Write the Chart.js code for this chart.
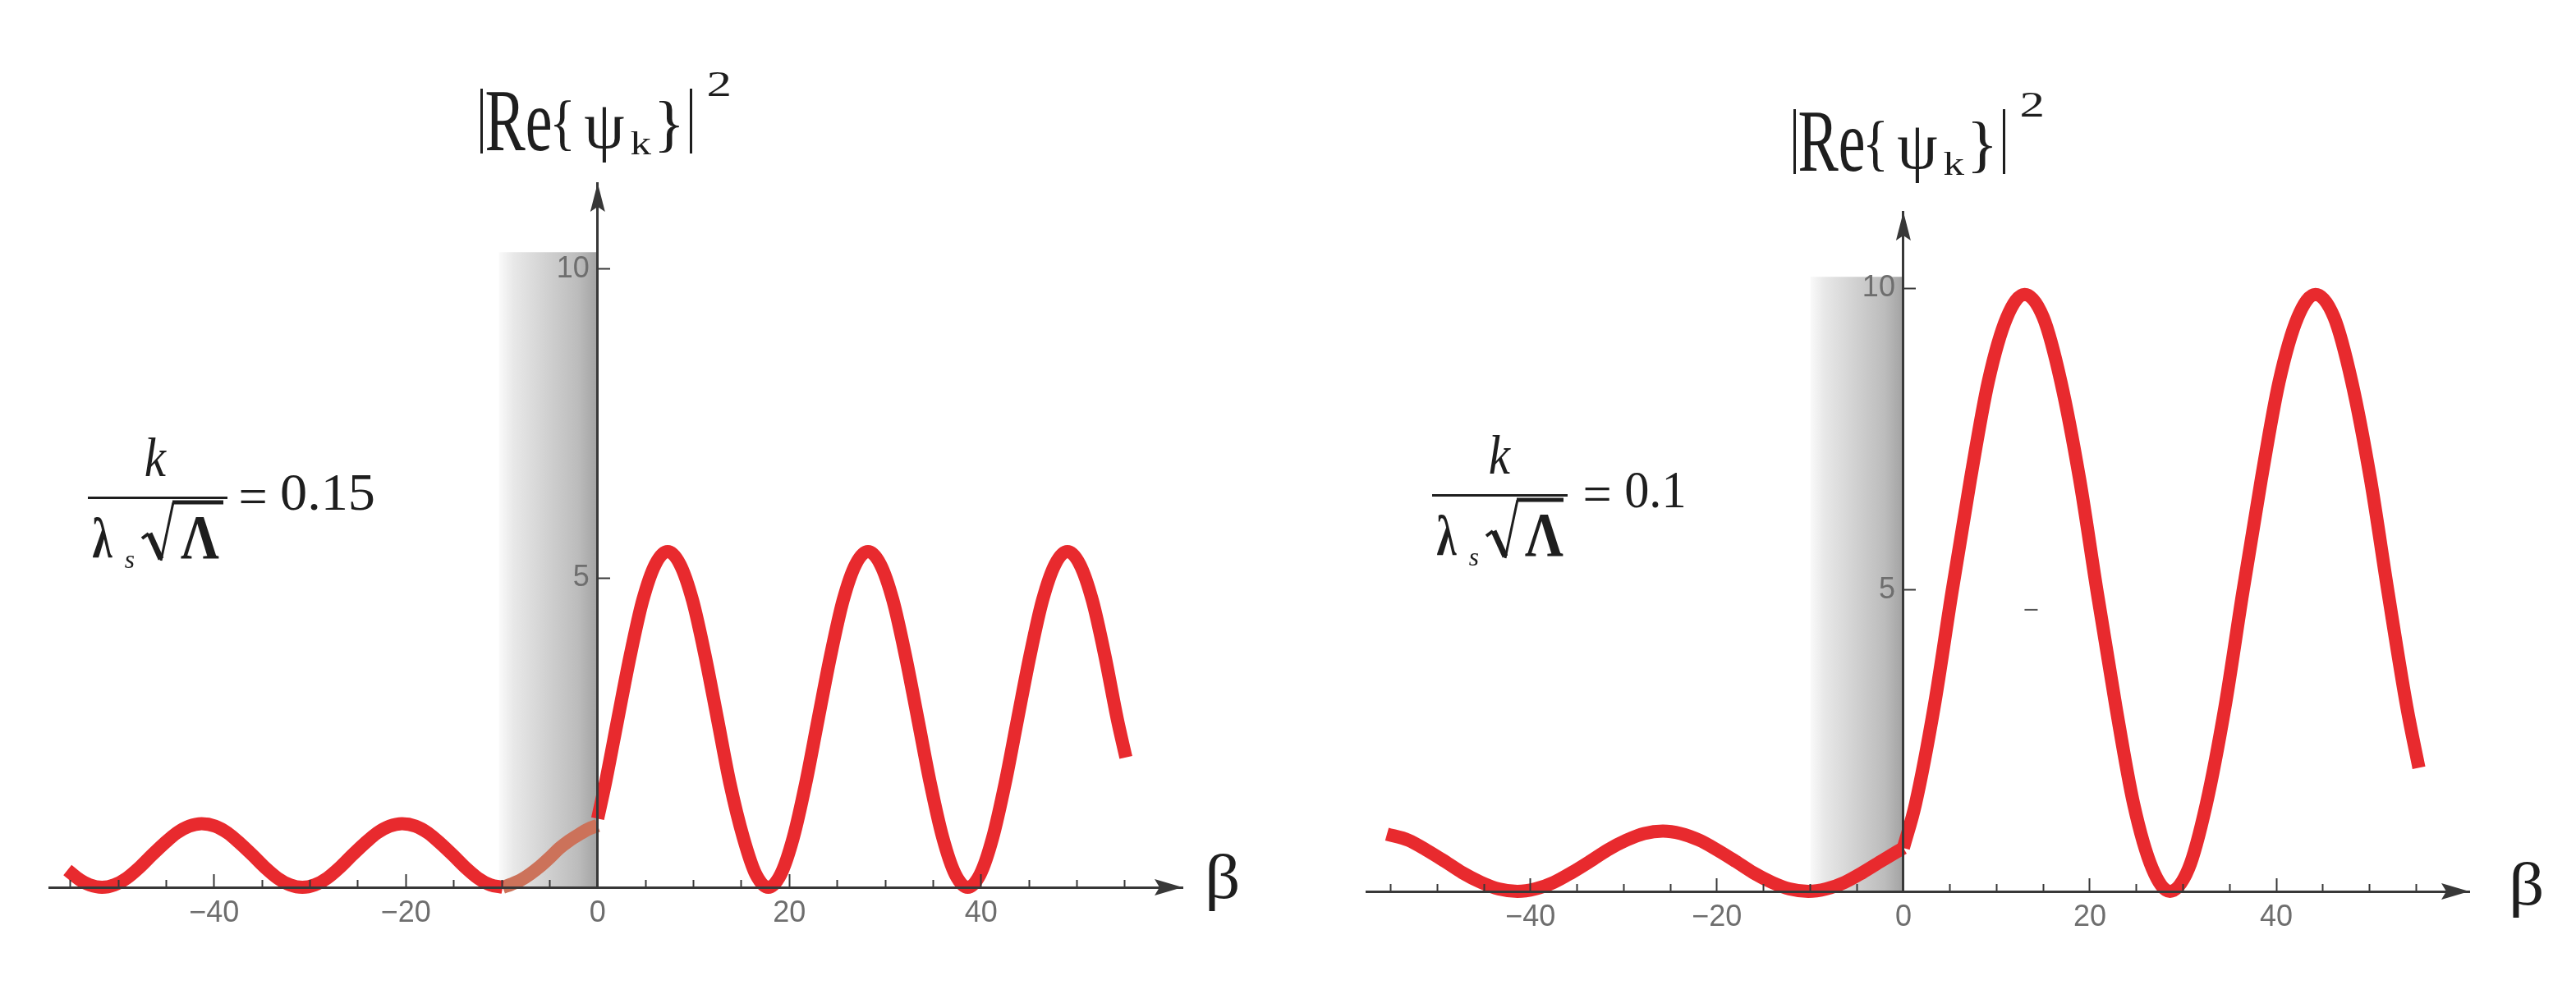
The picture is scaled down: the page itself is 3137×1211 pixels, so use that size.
<!DOCTYPE html>
<html>
<head>
<meta charset="utf-8">
<script src="https://cdn.jsdelivr.net/npm/chart.js@4.4.1/dist/chart.umd.min.js"></script>
<style>
  body { margin: 0; background: #fff; }
  canvas { position: absolute; top: 0; }
  #left { left: 0; }
  #right { left: 1568px; }
</style>
</head>
<body>
<canvas id="left" width="1568" height="1211"></canvas>
<canvas id="right" width="1569" height="1211"></canvas>
<script>
// ---- values ----
// left panel, k/(λs√Λ) = 0.15
const leftFarBeta = [-55.3, -54.0, -53.0, -51.7, -50.4, -49.1, -47.8, -46.5, -45.2, -43.9, -42.6, -41.3,
  -39.9, -38.6, -37.3, -36.0, -34.7, -33.4, -32.1, -30.8, -29.5, -28.2, -26.9, -25.6, -24.3, -23.0, -21.7, -20.4,
  -19.0, -17.7, -16.4, -15.1, -13.8, -12.5, -11.2, -9.9];
const leftFarVal = [0.28, 0.12, 0.04, 0, 0.04, 0.15, 0.32, 0.52, 0.71, 0.88, 0.99, 1.03,
  0.99, 0.88, 0.71, 0.52, 0.32, 0.15, 0.04, 0, 0.04, 0.15, 0.32, 0.52, 0.71, 0.88, 0.99, 1.03,
  0.99, 0.88, 0.71, 0.52, 0.32, 0.15, 0.04, 0];
const leftShadeBeta = [-9.9, -9, -8, -7, -6, -5, -4, -3, -2, -1, 0];
const leftShadeVal = [0, 0.05, 0.12, 0.22, 0.34, 0.48, 0.63, 0.75, 0.85, 0.94, 1.0];
const leftNearBeta = [0, 0.8, 2.1, 3.4, 4.7, 6.0, 7.3, 8.6, 9.9, 11.2, 12.5, 13.8, 15.2, 16.5, 17.8,
  19.1, 20.4, 21.7, 23.0, 24.3, 25.6, 26.9, 28.2, 29.5, 30.8, 32.1, 33.4, 34.7, 36.0, 37.3, 38.6,
  39.9, 41.2, 42.5, 43.8, 45.1, 46.4, 47.7, 49.0, 50.3, 51.6, 52.9, 54.2, 55.1];
const leftNearVal = [1.11, 1.68, 2.72, 3.75, 4.64, 5.22, 5.43, 5.22, 4.64, 3.75, 2.72, 1.68, 0.80, 0.21, 0,
  0.21, 0.80, 1.68, 2.72, 3.75, 4.64, 5.22, 5.43, 5.22, 4.64, 3.75, 2.72, 1.68, 0.80, 0.21, 0,
  0.21, 0.80, 1.68, 2.72, 3.75, 4.64, 5.22, 5.43, 5.22, 4.64, 3.75, 2.72, 2.1];
const leftBand = [-10.3, 0];
const leftBandTop = 10.27;

// right panel, k/(λs√Λ) = 0.1
const rightFarBeta = [-55.4, -53.1, -51.2, -49.2, -47.3, -45.3, -43.4, -41.4,
  -39.5, -37.5, -35.6, -33.6, -31.7, -29.7, -27.8, -25.8, -23.9, -21.9, -20.0, -18.0, -16.1, -14.1, -12.2, -10.2,
  -8.3, -6.3, -4.4, -2.4, 0];
const rightFarVal = [0.95, 0.85, 0.69, 0.50, 0.31, 0.15, 0.04, 0,
  0.04, 0.15, 0.31, 0.50, 0.69, 0.85, 0.96, 1.0, 0.96, 0.85, 0.69, 0.50, 0.31, 0.15, 0.04, 0,
  0.04, 0.15, 0.31, 0.50, 0.72];
const rightNearBeta = [0, 1.3, 3.3, 5.2, 7.2, 9.1, 11.1, 13.0, 15.0, 16.9, 18.9, 20.8, 22.8, 24.7, 26.7, 28.6,
  30.6, 32.5, 34.5, 36.4, 38.4, 40.3, 42.3, 44.2, 46.2, 48.1, 50.1, 52.0, 54.0, 55.3];
const rightNearVal = [0.72, 1.45, 3.06, 4.95, 6.84, 8.45, 9.52, 9.9, 9.52, 8.45, 6.84, 4.95, 3.06, 1.45, 0.38, 0,
  0.38, 1.45, 3.06, 4.95, 6.84, 8.45, 9.52, 9.9, 9.52, 8.45, 6.84, 4.95, 3.06, 2.05];
const rightBand = [-10.0, 0];
const rightBandTop = 10.19;
const rightDashBeta = [13.7];
const rightDashVal = [4.67];

const xMajorTicks = [-40, -20, 0, 20, 40];
const xMinorTicks = [-55, -50, -45, -35, -30, -25, -15, -10, -5, 5, 10, 15, 25, 30, 35, 45, 50, 55];
const yMajorTicks = [5, 10];

const RED = 'rgb(232,42,46)';
const BROWN = 'rgb(204,114,90)';
const AXIS = '#383838';
const SERIF = '"Liberation Serif", "Times New Roman", serif';

function pts(xs, ys) {
    return xs.map((b, i) => ({ x: b, y: ys[i] }));
}

// draw a string so that its ink fills the box [l, t, r, b]
function fitBox(c, s, box, style, dx, dy) {
    const [l, t, r, b] = [box[0] + dx, box[1] + dy, box[2] + dx, box[3] + dy];
    c.save();
    c.font = (style ? style + ' ' : '') + '100px ' + SERIF;
    const m = c.measureText(s);
    const w = m.actualBoundingBoxLeft + m.actualBoundingBoxRight;
    const h = m.actualBoundingBoxAscent + m.actualBoundingBoxDescent;
    const sx = (r - l) / w, sy = (b - t) / h;
    c.translate(l + m.actualBoundingBoxLeft * sx, t + m.actualBoundingBoxAscent * sy);
    c.scale(sx, sy);
    c.fillText(s, 0, 0);
    c.restore();
}

// ink boxes measured on the left panel; the right panel reuses them with an offset
const titleBoxes = {
    bar1: [585, 108, 589, 187], re: [592, 113, 670, 184], open: [675, 123, 695, 184],
    psi: [712, 130, 760, 197], sub: [768, 160, 793, 188], close: [803, 123, 827, 186],
    bar2: [840, 108, 844, 187], sup: [863, 87, 888, 117]
};
const ratioBoxes = {
    k: [177, 533, 203, 580], lam: [113, 630, 137, 680], s: [152, 677, 163, 692],
    cap: [220, 630, 267, 680], eq: [293, 597, 323, 613]
};

// arrows + formula texts
const annotPlugin = {
    id: 'annot',
    afterDraw(chart, args, o) {
        const c = chart.ctx;
        const area = chart.chartArea;
        const x0 = chart.scales.x.getPixelForValue(0);
        const y0 = chart.scales.y.getPixelForValue(0);
        c.save();
        c.fillStyle = AXIS;
        c.beginPath();
        c.moveTo(area.right, y0);
        c.lineTo(area.right - 34, y0 - 10);
        c.lineTo(area.right - 28, y0);
        c.lineTo(area.right - 34, y0 + 10);
        c.closePath();
        c.fill();
        c.beginPath();
        c.moveTo(x0, area.top);
        c.lineTo(x0 - 9, area.top + 35);
        c.lineTo(x0, area.top + 29);
        c.lineTo(x0 + 9, area.top + 35);
        c.closePath();
        c.fill();

        c.fillStyle = '#1e1e1e';
        c.strokeStyle = '#1e1e1e';
        c.textBaseline = 'alphabetic';
        c.textAlign = 'left';

        // |Re{ψk}|^2
        const [tx, ty] = o.titleShift;
        const T = titleBoxes;
        c.fillRect(T.bar1[0] + tx, T.bar1[1] + ty, 3, T.bar1[3] - T.bar1[1]);
        c.fillRect(T.bar2[0] + tx, T.bar2[1] + ty, 3, T.bar2[3] - T.bar2[1]);
        fitBox(c, 'Re', T.re, '', tx, ty);
        fitBox(c, '{', T.open, '', tx, ty);
        fitBox(c, 'ψ', T.psi, '', tx, ty);
        fitBox(c, 'k', T.sub, '', tx, ty);
        fitBox(c, '}', T.close, '', tx, ty);
        fitBox(c, '2', T.sup, '', tx, ty);

        // k / (λs √Λ) = value
        const [rx, ry] = o.ratioShift;
        const R = ratioBoxes;
        c.fillRect(107 + rx, 605 + ry, o.barLen, 3);
        fitBox(c, 'k', R.k, 'italic', rx, ry);
        fitBox(c, 'λ', R.lam, 'bold', rx, ry);
        fitBox(c, 's', R.s, 'italic', rx, ry);
        fitBox(c, 'Λ', R.cap, 'bold', rx, ry);
        fitBox(c, '=', R.eq, '', rx, ry);
        fitBox(c, o.ratio, [343, 579, 343 + o.ratioWidth, 622], '', rx, ry);
        c.lineJoin = 'miter';
        c.lineWidth = 4;
        c.beginPath();
        c.moveTo(173 + rx, 656 + ry);
        c.lineTo(181 + rx, 650 + ry);
        c.stroke();
        c.lineWidth = 7;
        c.beginPath();
        c.moveTo(182 + rx, 650 + ry);
        c.lineTo(196 + rx, 681 + ry);
        c.stroke();
        c.lineWidth = 3;
        c.beginPath();
        c.moveTo(196 + rx, 683 + ry);
        c.lineTo(211 + rx, 612 + ry);
        c.stroke();
        c.lineWidth = 5;
        c.beginPath();
        c.moveTo(210 + rx, 612 + ry);
        c.lineTo(107 + rx + o.barLen - 5, 612 + ry);
        c.stroke();

        // β
        fitBox(c, 'β', o.betaBox, '', 0, 0);
        c.restore();
    }
};

function bandFill(band) {
    return (ctx) => {
        const chart = ctx.chart;
        const xs = chart.scales.x;
        if (!chart.chartArea || !xs) return 'rgba(0,0,0,0)';
        const g = chart.ctx.createLinearGradient(xs.getPixelForValue(band[0]), 0, xs.getPixelForValue(band[1]), 0);
        g.addColorStop(0, 'rgba(250,250,250,1)');
        g.addColorStop(0.15, '#e8e8e8');
        g.addColorStop(0.5, '#d0d0d0');
        g.addColorStop(0.8, '#bcbcbc');
        g.addColorStop(1, '#a2a2a2');
        return g;
    };
}

function curve(data, color) {
    return {
        data, borderColor: color, borderWidth: 16, pointRadius: 0, fill: false,
        cubicInterpolationMode: 'monotone', borderCapStyle: 'butt', borderJoinStyle: 'round',
        clip: false, order: 1
    };
}

function makePanel(canvas, p) {
    const tickFont = { family: '"Liberation Sans", Arial, sans-serif', size: 36 };
    const minus = v => (v < 0 ? '\u2212' + Math.abs(v) : String(v));
    const datasets = [
        {
            data: [{ x: p.band[0], y: p.bandTop }, { x: p.band[1], y: p.bandTop }],
            borderWidth: 0, pointRadius: 0, fill: 'origin',
            backgroundColor: bandFill(p.band), order: 5
        }
    ];
    p.curves.forEach(cv => datasets.push(curve(cv.data, cv.color)));
    if (p.dash) {
        datasets.push({
            data: p.dash, showLine: false, pointStyle: 'line', pointRadius: 8,
            borderColor: '#555', borderWidth: 2, order: 0
        });
    }
    return new Chart(canvas.getContext('2d'), {
        type: 'line',
        data: { datasets },
        plugins: [annotPlugin],
        options: {
            responsive: false,
            animation: false,
            events: [],
            layout: { autoPadding: false, padding: p.padding },
            plugins: {
                legend: { display: false },
                tooltip: { enabled: false },
                annot: p.text
            },
            scales: {
                x: {
                    type: 'linear', min: p.xMin, max: p.xMax, position: { y: 0 },
                    border: { color: AXIS, width: 3, z: 1 },
                    grid: { drawOnChartArea: false, tickLength: -18, tickWidth: 2, tickColor: AXIS, z: 1 },
                    ticks: { font: tickFont, color: '#6e6e6e', padding: 28, maxRotation: 0, autoSkip: false, callback: minus, z: 1 },
                    afterBuildTicks: s => { s.ticks = xMajorTicks.map(v => ({ value: v })); },
                    afterFit: s => { s.height = 0; }
                },
                xMinor: {
                    type: 'linear', min: p.xMin, max: p.xMax, position: { y: 0 },
                    border: { display: false },
                    grid: { drawOnChartArea: false, tickLength: -9, tickWidth: 2, tickColor: AXIS, z: 1 },
                    ticks: { callback: () => '' },
                    afterBuildTicks: s => { s.ticks = xMinorTicks.map(v => ({ value: v })); },
                    afterFit: s => { s.height = 0; }
                },
                y: {
                    type: 'linear', min: 0, max: p.yMax, position: { x: 0 },
                    border: { color: AXIS, width: 3, z: 1 },
                    grid: { drawOnChartArea: false, tickLength: -17, tickWidth: 2, tickColor: AXIS, z: 1 },
                    // labels sit right-aligned on the axis; a trailing space leaves the small gap
                    ticks: { font: tickFont, color: '#6e6e6e', callback: v => minus(v) + ' ', z: 1 },
                    afterBuildTicks: s => { s.ticks = yMajorTicks.map(v => ({ value: v })); },
                    afterFit: s => { s.width = 0; }
                }
            }
        }
    });
}

makePanel(document.getElementById('left'), {
    xMin: -57.2, xMax: 61.0, yMax: 11.39,
    padding: { left: 60, right: 128, top: 223, bottom: 130 },
    band: leftBand, bandTop: leftBandTop,
    curves: [
        { data: pts(leftFarBeta, leftFarVal), color: RED },
        { data: pts(leftShadeBeta, leftShadeVal), color: BROWN },
        { data: pts(leftNearBeta, leftNearVal), color: RED }
    ],
    text: { titleShift: [0, 0], ratioShift: [0, 0], barLen: 170, ratio: '0.15', ratioWidth: 112,
            betaBox: [1472, 1040, 1507, 1110] }
});

makePanel(document.getElementById('right'), {
    xMin: -57.6, xMax: 60.7, yMax: 11.27,
    padding: { left: 96, right: 130, top: 258, bottom: 125 },
    band: rightBand, bandTop: rightBandTop,
    curves: [
        { data: pts(rightFarBeta, rightFarVal), color: RED },
        { data: pts(rightNearBeta, rightNearVal), color: RED }
    ],
    dash: pts(rightDashBeta, rightDashVal),
    text: { titleShift: [31, 25], ratioShift: [69, -3], barLen: 165, ratio: '0.1', ratioWidth: 70,
            betaBox: [1492, 1050, 1527, 1118] }
});
</script>
</body>
</html>
